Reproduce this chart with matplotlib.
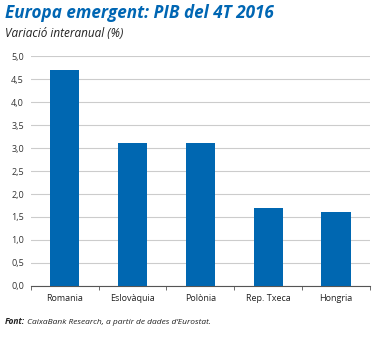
import matplotlib.pyplot as plt
import numpy as np

paisos = ['Romania', 'Eslovàquia', 'Polònia', 'Rep. Txeca', 'Hongria']
pib = [4.7, 3.1, 3.1, 1.7, 1.6]

plt.rcParams['font.family'] = ['Open Sans', 'DejaVu Sans']

fig = plt.figure(figsize=(3.77, 3.38), dpi=100)
ax = fig.add_axes([0.082, 0.154, 0.899, 0.68])

x = np.arange(len(paisos))
ax.bar(x, pib, width=0.43, color='#0067b1', zorder=3)

ax.set_xlim(-0.5, len(paisos) - 0.5)
ax.set_ylim(0, 5)
yt = np.arange(0, 5.01, 0.5)
ax.set_yticks(yt)
ax.set_yticklabels([('%.1f' % v).replace('.', ',') for v in yt], fontsize=6.5, color='#333333')
ax.set_xticks(x)
ax.set_xticklabels(paisos, fontsize=6.5, color='#222222')
ax.set_xticks(np.arange(-0.5, len(paisos), 1), minor=True)
ax.tick_params(axis='x', which='major', length=0, pad=6)
ax.tick_params(axis='x', which='minor', length=3, direction='out', color='#555555')
ax.tick_params(axis='y', length=0, pad=5)
ax.yaxis.grid(True, color='#cccccc', lw=0.8, zorder=0)

for s in ['top', 'right', 'left']:
    ax.spines[s].set_visible(False)
ax.spines['bottom'].set_color('#555555')
ax.spines['bottom'].set_linewidth(0.8)

fig.text(0.013, 0.962, 'Europa emergent: PIB del 4T 2016', fontsize=12.3, fontweight='bold',
         style='italic', color='#0066b3', va='center')
fig.text(0.013, 0.9, 'Variació interanual (%)', fontsize=8.5, style='italic',
         color='#222222', va='center')

# source line: bold "Font:" then the rest right after it
t = fig.text(0.013, 0.04, 'Font:', fontsize=6, style='italic', fontweight='bold',
             color='#222222', va='baseline')
ax.annotate(' CaixaBank Research, a partir de dades d’Eurostat.', xy=(1, 0),
            xycoords=t, va='bottom', fontsize=6, style='italic', color='#222222',
            annotation_clip=False)

fig.savefig('out.png', dpi=100)
